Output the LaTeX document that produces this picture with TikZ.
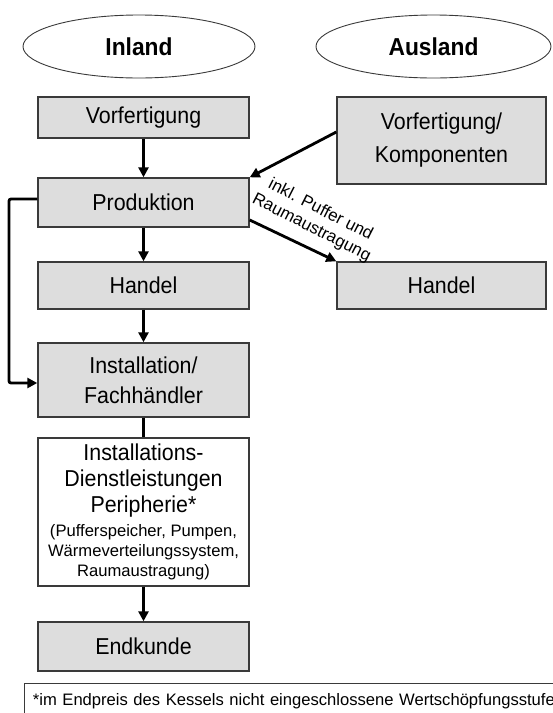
\documentclass[tikz,border=0pt]{standalone}
\usepackage{fontspec}
\setmainfont{Liberation Sans}
\newfontfamily\bigfam[FakeStretch=0.93]{Liberation Sans}
\usetikzlibrary{arrows.meta,calc,shapes.geometric}
\definecolor{boxgray}{HTML}{DDDDDD}
\definecolor{edgegray}{HTML}{3A3A3A}
\newcommand{\smalltxt}{\fontsize{16.6}{20}\selectfont\rmfamily}
\tikzset{
  stagebox/.style={draw=edgegray, line width=1.4pt, fill=boxgray, minimum width=211pt, inner sep=0pt, align=center,
    font=\bigfam\fontsize{23}{30}\selectfont},
  widebox/.style={stagebox, minimum width=209pt},
  region/.style={draw=edgegray, line width=0.9pt, ellipse, inner sep=0pt, font=\bigfam\bfseries\fontsize{24.5}{28}\selectfont},
  arr/.style={line width=2.8pt, -{Triangle[length=10pt,width=10pt]}},
  plain/.style={line width=2.8pt},
}
\begin{document}
\begin{tikzpicture}[x=1pt,y=-1pt]
\useasboundingbox (0,0) rectangle (553,713);
% regions
\node[region, minimum width=232pt, minimum height=63pt] (inland) at (139,46.5) {Inland};
\node[region, minimum width=235pt, minimum height=63pt] (ausland) at (433.5,46.5) {Ausland};
% left column
\node[stagebox, minimum height=41pt] (vor) at (143.5,117.5) {Vorfertigung};
\node[stagebox, minimum height=49pt] (prod) at (143.5,202.5) {Produktion};
\node[stagebox, minimum height=47pt] (handL) at (143.5,285.5) {Handel};
\node[stagebox, minimum height=74pt] (inst) at (143.5,380) {Installation/\\Fachhändler};
\node[stagebox, fill=white, minimum height=148pt, font=\bigfam\fontsize{23}{26}\selectfont] (dienst) at (143.5,512)
  {Installations-\\Dienstleistungen\\Peripherie*\\[-2pt]
   {\smalltxt (Pufferspeicher, Pumpen,}\\[-6pt]{\smalltxt Wärmeverteilungssystem,}\\[-6pt]{\smalltxt Raumaustragung)}};
\node[stagebox, minimum height=49pt] (end) at (143.5,646.5) {Endkunde};
% right column
\node[widebox, minimum height=87pt, font=\bigfam\fontsize{23}{33}\selectfont] (vorA) at (441.5,140.5) {Vorfertigung/\\Komponenten};
\node[widebox, minimum height=47pt] (handR) at (441.5,285.5) {Handel};
% connectors
\draw[arr] (vor) -- (prod);
\draw[arr] (prod) -- (handL);
\draw[arr] (handL) -- (inst);
\draw[plain] (inst) -- (dienst);
\draw[arr] (dienst) -- (end);
\draw[arr] ([yshift=8.5pt]vorA.west) -- (prod.north east);
\draw[arr] ([yshift=-17.5pt]prod.east) -- (handR.north west);
\coordinate (loopL) at (9,383);
\draw[arr, rounded corners=2pt] ([yshift=3.5pt]prod.west) -| (loopL) -- ([yshift=-3pt]inst.west);
% label
\node[rotate=-27, align=center, font=\fontsize{17}{20}\selectfont, inner sep=0pt] (lbl) at (316,219) {inkl. Puffer und\\Raumaustragung};
% footnote
\node[draw=edgegray, line width=0.9pt, anchor=north west, minimum height=36pt, text width=560pt, inner xsep=9pt, inner ysep=0pt, align=left,
  font=\fontsize{16.6}{20}\selectfont] (foot) at (23.5,683) {*im Endpreis des Kessels nicht eingeschlossene Wertschöpfungsstufe};
\end{tikzpicture}
\end{document}
